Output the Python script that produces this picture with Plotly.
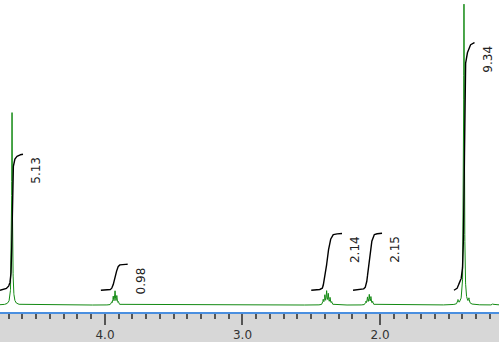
import numpy as np
import plotly.graph_objects as go

# ---- data ----
# spectrum lines (chemical shift in ppm, relative intensity)
peak_ppm = [4.676, 4.684, 4.668,
            3.952, 3.940, 3.927, 3.914, 3.902,
            2.413, 2.401, 2.388, 2.376, 2.363, 2.351,
            2.103, 2.091, 2.078, 2.066, 2.053,
            1.389, 1.433, 1.353, 1.180]
peak_height = [63.5, 0.8, 0.8,
               0.8, 2.6, 4.4, 2.8, 0.9,
               1.6, 3.0, 4.3, 3.4, 2.2, 0.9,
               1.0, 2.4, 3.2, 2.5, 1.0,
               100.0, 1.3, 1.6, 0.4]
peak_hwhm = 0.0032

# integral regions: start ppm (left), end ppm (right), integral value
integral_start = [4.7636, 4.030, 2.500, 2.196, 1.462]
integral_end = [4.596, 3.835, 2.276, 1.985, 1.312]
integral_value = [5.13, 0.98, 2.14, 2.15, 9.34]
integral_label = ["5.13", "0.98", "2.14", "2.15", "9.34"]

tick_vals = [4.0, 3.0, 2.0]
tick_text = ["4.0", "3.0", "2.0"]

x_left, x_right = 4.7636, 1.1345

# ---- spectrum ----
ppm = np.arange(1.12, 4.78, 0.0004)
spec = np.zeros_like(ppm)
for p, h in zip(peak_ppm, peak_height):
    spec += h * peak_hwhm**2 / ((ppm - p) ** 2 + peak_hwhm**2)

fig = go.Figure()
fig.add_trace(go.Scatter(x=ppm, y=spec, mode="lines",
                         line=dict(color="#138a13", width=1),
                         hoverinfo="skip", showlegend=False))

# ---- integrals ----
units_per_integral = 8.78
integral_base = 4.9
for s, e, v, lab in zip(integral_start, integral_end, integral_value, integral_label):
    m = (ppm <= s) & (ppm >= e)
    xs = ppm[m][::-1]
    ys = spec[m][::-1]
    cum = np.cumsum(ys)
    cum = cum / cum[-1]
    yi = integral_base + v * units_per_integral * cum
    fig.add_trace(go.Scatter(x=xs, y=yi, mode="lines",
                             line=dict(color="black", width=1.4),
                             hoverinfo="skip", showlegend=False))
    fig.add_annotation(x=e, y=yi[-1], text=lab, showarrow=False,
                       textangle=-90, xanchor="left", yanchor="top",
                       xshift=4, yshift=-1,
                       font=dict(family="DejaVu Sans", size=12, color="#222"))

fig.update_layout(
    width=499, height=342,
    margin=dict(l=0, r=0, t=0, b=28),
    paper_bgcolor="#d7d7d7",
    plot_bgcolor="white",
    xaxis=dict(range=[x_left, x_right], showgrid=False, zeroline=False,
               showline=True, linecolor="#4a8fe0", linewidth=2,
               tickmode="array", tickvals=tick_vals, ticktext=tick_text,
               ticks="outside", ticklen=11, tickwidth=1.5, tickcolor="#555",
               tickfont=dict(family="DejaVu Sans", size=12, color="#333"),
               minor=dict(dtick=0.1, tick0=0, ticks="outside", ticklen=5,
                          tickwidth=1.5, tickcolor="#555", showgrid=False)),
    yaxis=dict(range=[-2.3, 101], visible=False, showgrid=False, zeroline=False),
)

fig.write_html("out.html")
